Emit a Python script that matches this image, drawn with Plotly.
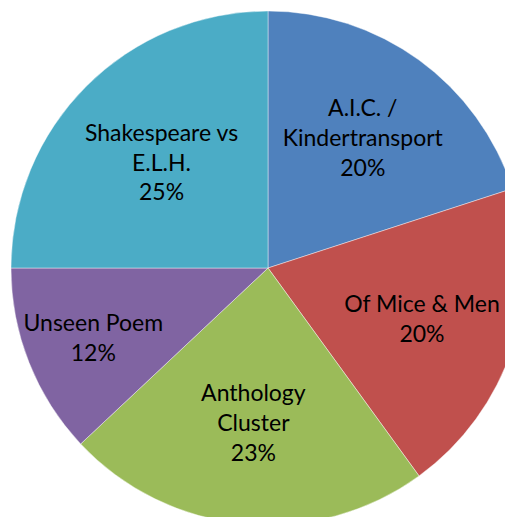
import plotly.graph_objects as go

labels = ["A.I.C. /<br>Kindertransport", "Of Mice & Men", "Anthology<br>Cluster", "Unseen Poem", "Shakespeare vs<br>E.L.H."]
values = [20, 20, 23, 12, 25]
colors = ["#4F81BD", "#C0504D", "#9BBB59", "#8064A2", "#4BACC6"]

fig = go.Figure(go.Pie(
    labels=labels,
    values=values,
    sort=False,
    direction="clockwise",
    rotation=0,
    marker=dict(colors=colors, line=dict(color="rgba(255,255,255,0.6)", width=0.7)),
    texttemplate="%{label}<br>%{percent:.0%}",
    textposition="inside",
    insidetextorientation="horizontal",
    textfont=dict(family="Lato", size=23, color="black"),
    showlegend=False,
    hoverinfo="label+percent",
))

fig.update_layout(
    width=520, height=520,
    margin=dict(l=3, r=3, t=3, b=3),
    paper_bgcolor="white",
    plot_bgcolor="white",
    uniformtext=dict(minsize=23, mode="show"),
)

fig.write_html("out.html", post_script="document.body.style.overflow='hidden';")
